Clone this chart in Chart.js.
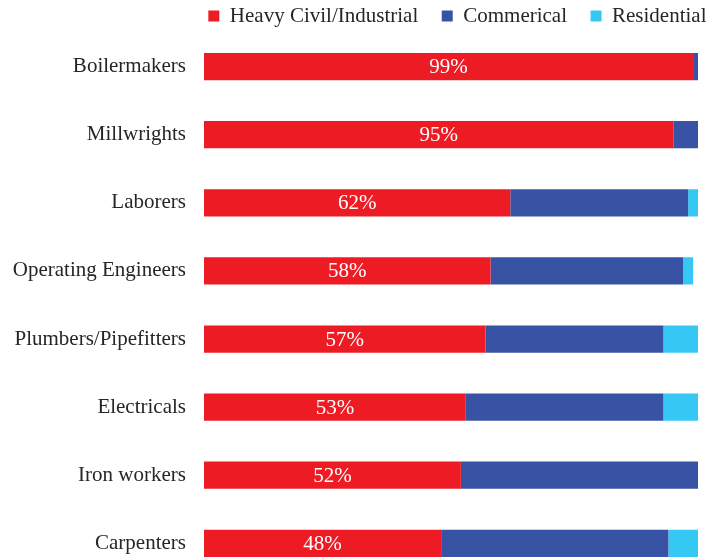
<!DOCTYPE html>
<html>
<head>
<meta charset="utf-8">
<script src="https://cdn.jsdelivr.net/npm/chart.js@4"></script>
<style>
  html, body { margin: 0; padding: 0; background: #fff; overflow: hidden; }
  canvas { display: block; }
</style>
</head>
<body>
<!-- taller than the window on purpose: the last bar sits on the bottom edge -->
<canvas id="tradeChart" width="718" height="608"></canvas>
<script>
    const trades = ['Boilermakers', 'Millwrights', 'Laborers', 'Operating Engineers',
        'Plumbers/Pipefitters', 'Electricals', 'Iron workers', 'Carpenters'];

    // share of work by sector, percent
    const heavyCivil = [99, 95, 62, 58, 57, 53, 52, 48];
    const commercial = [1, 5, 36, 39, 36, 40, 48, 46];
    const residential = [0, 0, 2, 2, 7, 7, 0, 6];

    const serif = "'Liberation Serif', 'Times New Roman', serif";

    // white % label in the middle of the red piece
    const redLabels = {
        id: 'redLabels',
        afterDatasetsDraw(chart) {
            const ctx = chart.ctx;
            const meta = chart.getDatasetMeta(0);
            ctx.save();
            ctx.fillStyle = '#ffffff';
            ctx.font = '21px ' + serif;
            ctx.textAlign = 'center';
            ctx.textBaseline = 'middle';
            meta.data.forEach((bar, i) => {
                const p = bar.getProps(['x', 'y', 'base'], true);
                ctx.fillText(heavyCivil[i] + '%', (p.x + p.base) / 2, p.y + 1);
            });
            ctx.restore();
        }
    };

    new Chart(document.getElementById('tradeChart'), {
        type: 'bar',
        data: {
            labels: trades,
            datasets: [
                { label: 'Heavy Civil/Industrial', data: heavyCivil, backgroundColor: '#ED1C24' },
                { label: 'Commerical', data: commercial, backgroundColor: '#3953A4' },
                { label: 'Residential', data: residential, backgroundColor: '#36C8F4' }
            ]
        },
        options: {
            indexAxis: 'y',
            responsive: false,
            animation: false,
            layout: { padding: { top: -18, right: -12, left: 0, bottom: 0 } },
            datasets: {
                bar: { barPercentage: 0.4, categoryPercentage: 1.0, borderWidth: 0 }
            },
            scales: {
                x: {
                    stacked: true,
                    min: 0,
                    max: 100,
                    display: false
                },
                y: {
                    stacked: true,
                    grid: { display: false, drawTicks: false },
                    border: { display: false },
                    ticks: {
                        color: '#262626',
                        padding: 18,
                        font: { family: serif, size: 21 }
                    },
                    afterFit(scale) { scale.width = 204; }
                },
                yRight: {
                    type: 'category',
                    position: 'right',
                    grid: { display: false, drawTicks: false },
                    border: { display: false },
                    ticks: { display: false },
                    afterFit(scale) { scale.width = 32; }
                }
            },
            plugins: {
                legend: {
                    position: 'top',
                    align: 'end',
                    maxHeight: 50.5,
                    labels: {
                        color: '#262626',
                        boxWidth: 11,
                        boxHeight: 11,
                        padding: 23.5,
                        font: { family: serif, size: 21 }
                    }
                },
                tooltip: { enabled: false },
                title: { display: false }
            }
        },
        plugins: [redLabels]
    });
</script>
</body>
</html>
